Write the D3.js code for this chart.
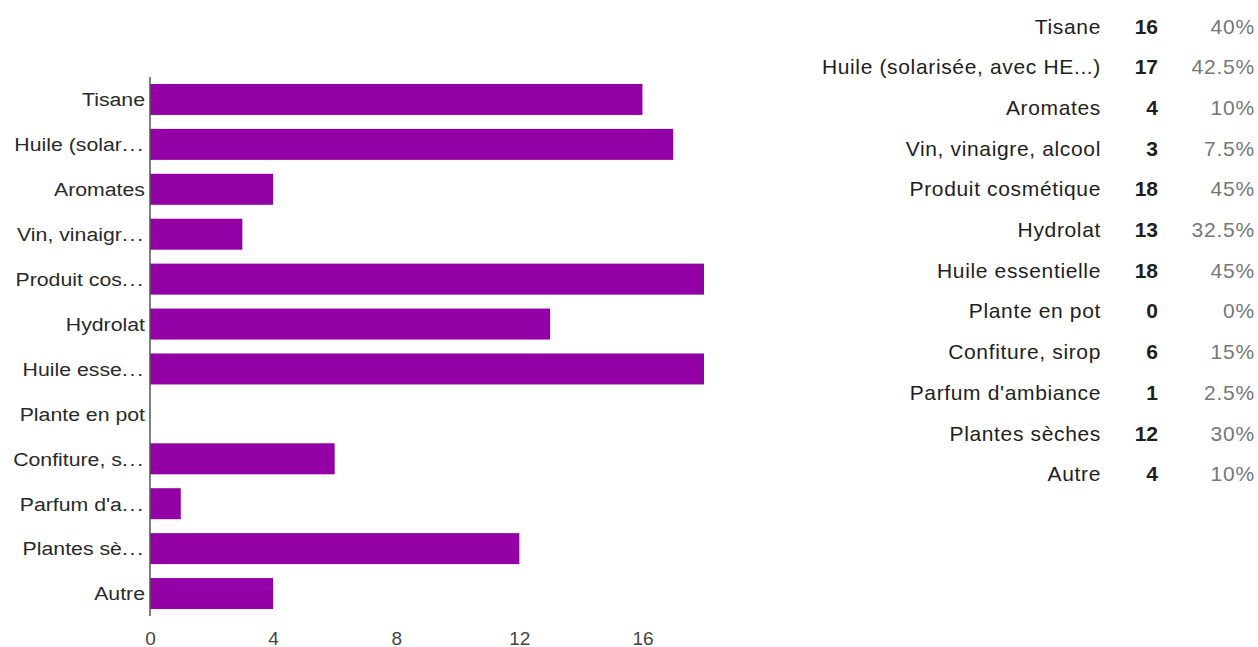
<!DOCTYPE html>
<html>
<head>
<meta charset="utf-8">
<script src="https://cdn.jsdelivr.net/npm/d3@7"></script>
<style>
  html, body { margin: 0; padding: 0; background: #fff; }
  svg { display: block; }
  text { font-family: "Liberation Sans", Arial, sans-serif; }
</style>
</head>
<body>
<svg id="chart" width="1258" height="647"></svg>
<script>
// ---- data ----
const categories = ["Tisane", "Huile (solarisée, avec HE...)", "Aromates", "Vin, vinaigre, alcool",
  "Produit cosmétique", "Hydrolat", "Huile essentielle", "Plante en pot", "Confiture, sirop",
  "Parfum d'ambiance", "Plantes sèches", "Autre"];
const axisLabels = ["Tisane", "Huile (solar...", "Aromates", "Vin, vinaigr...", "Produit cos...",
  "Hydrolat", "Huile esse...", "Plante en pot", "Confiture, s...", "Parfum d'a...", "Plantes sè...", "Autre"];
const counts = [16, 17, 4, 3, 18, 13, 18, 0, 6, 1, 12, 4];
const percents = ["40%", "42.5%", "10%", "7.5%", "45%", "32.5%", "45%", "0%", "15%", "2.5%", "30%", "10%"];
const xTicks = [0, 4, 8, 12, 16];

const svg = d3.select("#chart");
const barColor = "#9300a6";

const x = d3.scaleLinear().domain([0, 18]).range([150, 704]);
const y = d3.scaleBand().domain(d3.range(categories.length)).range([77, 616]).paddingInner(0.31).paddingOuter(0.155);

// bars
svg.append("g").selectAll("rect").data(counts).join("rect")
  .attr("x", x(0))
  .attr("y", (d, i) => y(i))
  .attr("width", d => x(d) - x(0))
  .attr("height", y.bandwidth())
  .attr("fill", barColor);

// category labels (ellipsis dots slightly spaced as in the reference)
const lab = svg.append("g").selectAll("text").data(axisLabels).join("text")
  .attr("x", 145)
  .attr("y", (d, i) => y(i) + y.bandwidth() / 2)
  .attr("dy", "0.36em")
  .attr("text-anchor", "end")
  .attr("font-size", 19)
  .attr("fill", "#2a2a2a")
  .attr("transform", `translate(145,0) scale(1.12,1) translate(-145,0)`);
lab.each(function(d) {
  const t = d3.select(this);
  if (d.endsWith("...")) {
    t.append("tspan").text(d.slice(0, -3));
    t.append("tspan").attr("letter-spacing", "1.6px").text("...");
  } else {
    t.text(d);
  }
});

// y axis line
svg.append("line")
  .attr("x1", 150).attr("x2", 150)
  .attr("y1", 77).attr("y2", 616)
  .attr("stroke", "#555").attr("stroke-width", 1.5);

// x axis tick labels
const xAxis = d3.axisBottom(x).tickValues(xTicks).tickSize(0).tickPadding(0);
const gx = svg.append("g").attr("transform", "translate(0,631)").call(xAxis);
gx.select(".domain").remove();
gx.selectAll("text")
  .attr("font-size", 19)
  .attr("fill", "#444")
  .attr("dy", "0.72em")
  .style("font-family", "'Liberation Sans', Arial, sans-serif");

// right table
const rowY = i => 26 + i * 40.7;
const tbl = svg.append("g");
tbl.selectAll("text.lab").data(categories).join("text").attr("class", "lab")
  .attr("x", 1101).attr("y", (d, i) => rowY(i)).attr("dy", "0.36em")
  .attr("text-anchor", "end").attr("font-size", 21).attr("fill", "#1e1e1e")
  .attr("letter-spacing", "0.65px")
  .text(d => d);
tbl.selectAll("text.cnt").data(counts).join("text").attr("class", "cnt")
  .attr("x", 1158).attr("y", (d, i) => rowY(i)).attr("dy", "0.36em")
  .attr("text-anchor", "end").attr("font-size", 21).attr("font-weight", "bold").attr("fill", "#1e1e1e")
  .text(d => d);
tbl.selectAll("text.pct").data(percents).join("text").attr("class", "pct")
  .attr("x", 1255).attr("y", (d, i) => rowY(i)).attr("dy", "0.36em")
  .attr("text-anchor", "end").attr("font-size", 21).attr("fill", "#777")
  .attr("letter-spacing", "0.8px")
  .text(d => d);
</script>
</body>
</html>
